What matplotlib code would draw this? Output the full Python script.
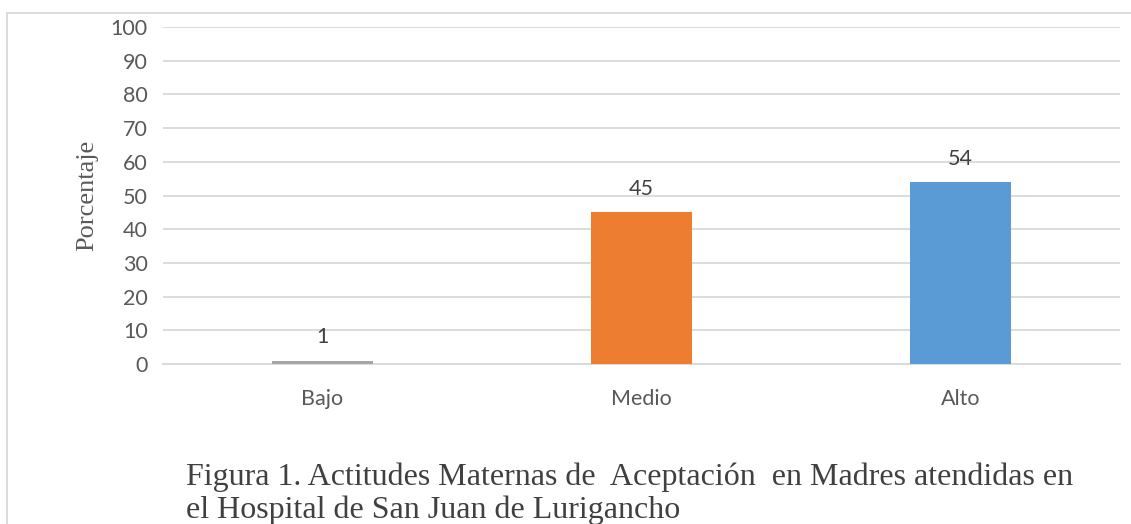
import numpy as np
import matplotlib.pyplot as plt
from matplotlib.patches import Rectangle

categorias = ["Bajo", "Medio", "Alto"]
porcentajes = [1, 45, 54]
colores = ["#A5A5A5", "#ED7D31", "#5B9BD5"]
yticks = list(range(0, 101, 10))

fig = plt.figure(figsize=(11.31, 5.24), dpi=100)
ax = fig.add_axes([163 / 1131, 1 - 364 / 524, (1120 - 163) / 1131, (364 - 27) / 524])

x = np.arange(len(categorias))
barras = ax.bar(x, porcentajes, width=0.317, color=colores, zorder=3)

ax.set_xlim(-0.5, 2.5)
ax.set_ylim(0, 100)
ax.set_yticks(yticks)
ax.set_xticks(x)
ax.set_xticklabels(categorias)
ax.grid(axis="y", color="#D9D9D9", linewidth=1.3, zorder=0)
for lado in ["top", "right", "left"]:
    ax.spines[lado].set_visible(False)
ax.spines["bottom"].set_color("#D9D9D9")
ax.spines["bottom"].set_linewidth(1.3)
ax.tick_params(axis="both", length=0, labelcolor="#595959", labelsize=15.5)
ax.tick_params(axis="x", pad=18)
ax.tick_params(axis="y", pad=11)
for t in ax.get_xticklabels() + ax.get_yticklabels():
    t.set_family("Lato")

for b, v in zip(barras, porcentajes):
    ax.text(b.get_x() + b.get_width() / 2, v + 4, str(v), ha="center", va="bottom",
            color="#404040", fontsize=15.5, family="Lato")

ax.set_ylabel("Porcentaje", family="Liberation Serif", fontsize=19, color="#595959", labelpad=9)

fig.text(186 / 1131, 1 - 494 / 524, "Figura 1. Actitudes Maternas de  Aceptación  en Madres atendidas en\nel Hospital de San Juan de Lurigancho",
         family="Liberation Serif", fontsize=23, color="#404040", va="center", ha="left", linespacing=1.17)

fig.patches.append(Rectangle((7 / 1131, -0.1), 1.2, 1 - 13 / 524 + 0.1, transform=fig.transFigure,
                             fill=False, edgecolor="#D9D9D9", linewidth=1.3))

fig.savefig("out.png", dpi=100)
